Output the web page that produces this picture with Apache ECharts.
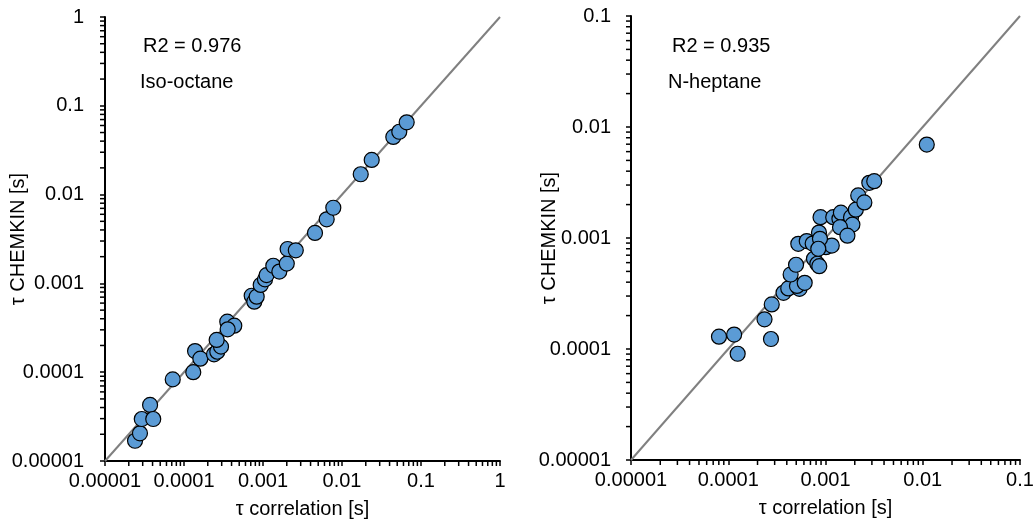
<!DOCTYPE html>
<html>
<head>
<meta charset="utf-8">
<script src="https://cdn.jsdelivr.net/npm/echarts@6/dist/echarts.min.js"></script>
<style>html,body{margin:0;padding:0;background:#fff}#c{width:1035px;height:527px}</style>
</head>
<body>
<div id="c"></div>
<script>
// ---- data ----
const tickLabels = ['0.00001', '0.0001', '0.001', '0.01', '0.1', '1'];
const isoX = [2.40e-5, 2.77e-5, 2.92e-5, 3.72e-5, 4.08e-5, 7.2e-5, 1.31e-4, 1.38e-4, 1.61e-4, 2.40e-4, 2.64e-4, 2.94e-4, 2.59e-4, 3.53e-4, 4.33e-4, 3.57e-4, 7.19e-4, 7.76e-4, 8.32e-4, 9.35e-4, 1.06e-3, 1.11e-3, 1.35e-3, 1.61e-3, 2.0e-3, 2.05e-3, 2.6e-3, 4.55e-3, 6.4e-3, 7.76e-3, 0.01726, 0.02377, 0.0446, 0.0531, 0.0659];
const isoY = [1.69e-5, 2.05e-5, 2.97e-5, 4.28e-5, 2.97e-5, 8.3e-5, 1.0e-4, 1.73e-4, 1.42e-4, 1.59e-4, 1.70e-4, 1.94e-4, 2.31e-4, 3.71e-4, 3.34e-4, 3.04e-4, 7.26e-4, 6.22e-4, 7.08e-4, 9.6e-4, 1.11e-3, 1.24e-3, 1.58e-3, 1.36e-3, 1.67e-3, 2.44e-3, 2.36e-3, 3.7e-3, 5.27e-3, 7.11e-3, 0.01694, 0.02455, 0.0446, 0.0510, 0.0652];
const hepX = [8.03e-5, 1.15e-4, 1.25e-4, 2.75e-4, 2.36e-4, 2.80e-4, 3.70e-4, 4.14e-4, 5.40e-4, 5.09e-4, 6.11e-4, 4.38e-4, 4.98e-4, 5.25e-4, 6.41e-4, 7.38e-4, 7.61e-4, 8.24e-4, 8.63e-4, 8.57e-4, 8.89e-4, 1.01e-3, 1.16e-3, 8.77e-4, 1.20e-3, 1.39e-3, 1.44e-3, 1.83e-3, 1.89e-3, 1.41e-3, 1.68e-3, 2.05e-3, 2.17e-3, 2.51e-3, 2.82e-3, 3.17e-3, 0.0110, 8.43e-4];
const hepY = [1.29e-4, 1.35e-4, 9.06e-5, 1.23e-4, 1.85e-4, 2.52e-4, 3.21e-4, 3.51e-4, 3.48e-4, 3.70e-4, 3.95e-4, 4.69e-4, 5.74e-4, 8.87e-4, 9.39e-4, 8.91e-4, 6.50e-4, 5.86e-4, 5.57e-4, 1.12e-3, 1.54e-3, 8.26e-4, 8.55e-4, 9.84e-4, 1.54e-3, 1.49e-3, 1.69e-3, 1.54e-3, 1.32e-3, 1.25e-3, 1.05e-3, 1.80e-3, 2.42e-3, 2.09e-3, 3.14e-3, 3.25e-3, 6.95e-3, 8.0e-4];
const isoRange = [1e-5, 1];
const hepRange = [1e-5, 0.1];
const isoNote = ['R2 = 0.976', 'Iso-octane'];
const hepNote = ['R2 = 0.935', 'N-heptane'];
const xName = 'τ correlation [s]';
const yName = 'τ CHEMKIN [s]';

// ---- helpers ----
const FONT = 'Liberation Sans, Arial, sans-serif';
const FS = 20;
function fmt(v) { return tickLabels[Math.round(Math.log10(v)) + 5]; }
function minorVals(range) {
  const out = [];
  const a = Math.round(Math.log10(range[0])), b = Math.round(Math.log10(range[1]));
  for (let d = a; d < b; d++) for (let m = 2; m <= 9; m++) out.push(m * Math.pow(10, d));
  return out;
}
function pairs(xs, ys) { return xs.map((x, i) => [x, ys[i]]); }

function axis(range, gridIndex, isY, gap, margin) {
  return {
    type: 'log', logBase: 10, min: range[0], max: range[1], gridIndex,
    name: isY ? yName : xName, nameLocation: 'middle', nameGap: gap, nameMoveOverlap: false,
    nameTextStyle: { fontFamily: FONT, fontSize: FS, color: '#000' },
    axisLine: { onZero: false, lineStyle: { color: '#000', width: 2 } },
    axisTick: { show: true, length: 5, lineStyle: { color: '#000', width: 1.5 } },
    axisLabel: { formatter: fmt, fontFamily: FONT, fontSize: FS, color: '#000', margin: margin },
    splitLine: { show: false }, minorTick: { show: false }
  };
}

function minorTickSeries(range, xi, isY) {
  return {
    type: 'custom', xAxisIndex: xi, yAxisIndex: xi, clip: false, silent: true, z: 1,
    data: minorVals(range).map(v => [v]),
    renderItem: function (params, api) {
      const v = api.value(0);
      const p = isY ? api.coord([range[0], v]) : api.coord([v, range[0]]);
      const shape = isY ? { x1: p[0] - 5, y1: p[1], x2: p[0], y2: p[1] }
                        : { x1: p[0], y1: p[1], x2: p[0], y2: p[1] + 5 };
      return { type: 'line', shape, style: { stroke: '#000', lineWidth: 1.5 } };
    }
  };
}

function scatter(xs, ys, xi) {
  return {
    type: 'scatter', xAxisIndex: xi, yAxisIndex: xi, data: pairs(xs, ys), symbol: 'circle', symbolSize: 15, z: 5,
    itemStyle: { color: '#5B9BD5', borderColor: '#000', borderWidth: 1.2, opacity: 1 }
  };
}
function diag(range, xi) {
  return {
    type: 'line', xAxisIndex: xi, yAxisIndex: xi, data: [[range[0], range[0]], [range[1], range[1]]],
    symbol: 'none', lineStyle: { color: '#808080', width: 2 }, z: 3, silent: true
  };
}
function note(text, left, top) {
  return { text, left, top, padding: 0, textStyle: { fontFamily: FONT, fontSize: FS, fontWeight: 'normal', color: '#000' } };
}

const chart = echarts.init(document.getElementById('c'), null, { renderer: 'canvas' });
chart.setOption({
  backgroundColor: '#fff',
  animation: false,
  grid: [
    { left: 105, top: 17, width: 395, height: 444, containLabel: false, outerBoundsMode: 'none' },
    { left: 631, top: 16, width: 389, height: 444, containLabel: false, outerBoundsMode: 'none' }
  ],
  xAxis: [axis(isoRange, 0, false, 38, 10), axis(hepRange, 1, false, 38, 10)],
  yAxis: [axis(isoRange, 0, true, 77, 21), axis(hepRange, 1, true, 72, 20)],
  title: [
    note(isoNote[0], 143, 36), note(isoNote[1], 140, 72),
    note(hepNote[0], 672, 36), note(hepNote[1], 668, 72)
  ],
  series: [
    diag(isoRange, 0), diag(hepRange, 1),
    minorTickSeries(isoRange, 0, false), minorTickSeries(isoRange, 0, true),
    minorTickSeries(hepRange, 1, false), minorTickSeries(hepRange, 1, true),
    scatter(isoX, isoY, 0), scatter(hepX, hepY, 1)
  ]
});
</script>
</body>
</html>
